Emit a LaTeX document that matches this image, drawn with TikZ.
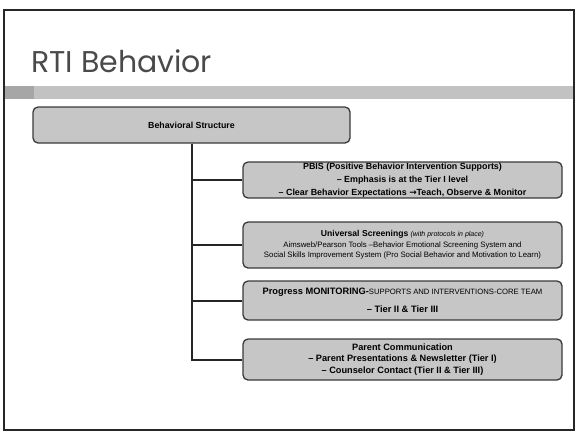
\documentclass[tikz,border=0pt]{standalone}
\usepackage{fontspec}
\setmainfont{Liberation Sans}
\newfontfamily\titlefont{Poppins}
\definecolor{boxfill}{HTML}{C6C6C6}
\definecolor{boxline}{HTML}{3A3A3A}
\definecolor{bandgray}{HTML}{C2C2C2}
\definecolor{titlegray}{HTML}{4A4A4A}
\begin{document}
\begin{tikzpicture}[x=1pt,y=-1pt,
  gbox/.style={draw=boxline, line width=1.3pt, fill=boxfill, rounded corners=5pt,
    align=center, inner sep=0pt, font=\bfseries\fontsize{8.8}{11}\selectfont},
  conn/.style={draw=black!85, line width=2pt}]
\useasboundingbox (0,0) rectangle (577,432);
% slide frame
\draw[line width=2pt, black!85] (4,10) rectangle (574,430);
% band
\fill[bandgray] (5,86) rectangle (573,99);
\fill[black!35] (5,86) rectangle (34,99);
% title
\node[anchor=base west, text=titlegray, font=\titlefont\fontsize{30}{34}\selectfont, inner sep=0pt] (title) at (31,72) {RTI Behavior};
% boxes
\node[gbox, minimum width=317, minimum height=36] (bs) at (191.5,125) {Behavioral Structure};
\node[gbox, minimum width=319, minimum height=36, font=\bfseries\fontsize{8.9}{13}\selectfont] (b1) at (402.5,180)
  {PBIS (Positive Behavior Intervention Supports)\\
   -- Emphasis is at the Tier I level\\
   -- Clear Behavior Expectations {\fontspec{DejaVu Sans}\bfseries →}Teach, Observe \& Monitor};
\node[gbox, minimum width=319, minimum height=46, font=\fontsize{7.8}{10.5}\selectfont] (b2) at (402.5,245)
  {{\bfseries\fontsize{8.6}{10.5}\selectfont Universal Screenings} {\itshape\fontsize{7}{10.5}\selectfont (with protocols in place)}\\
   Aimsweb/Pearson Tools --Behavior Emotional Screening System and\\
   Social Skills Improvement System (Pro Social Behavior and Motivation to Learn)};
\node[gbox, minimum width=319, minimum height=39, font=\bfseries\fontsize{9.3}{9.5}\selectfont] (b3) at (402.5,300.5)
  {Progress MONITORING-{\mdseries\fontsize{7.7}{9.5}\selectfont SUPPORTS AND INTERVENTIONS-CORE TEAM}\\[9pt]
   -- Tier II \& Tier III};
\node[gbox, minimum width=319, minimum height=41, font=\bfseries\fontsize{9.2}{11.5}\selectfont] (b4) at (402.5,359.5)
  {Parent Communication\\
   -- Parent Presentations \& Newsletter (Tier I)\\
   -- Counselor Contact (Tier II \& Tier III)};
% connectors
\draw[conn] (bs.south) |- (b4.west);
\draw[conn] (bs.south) |- (b1.west);
\draw[conn] (bs.south) |- (b2.west);
\draw[conn] (bs.south) |- (b3.west);
\end{tikzpicture}
\end{document}
